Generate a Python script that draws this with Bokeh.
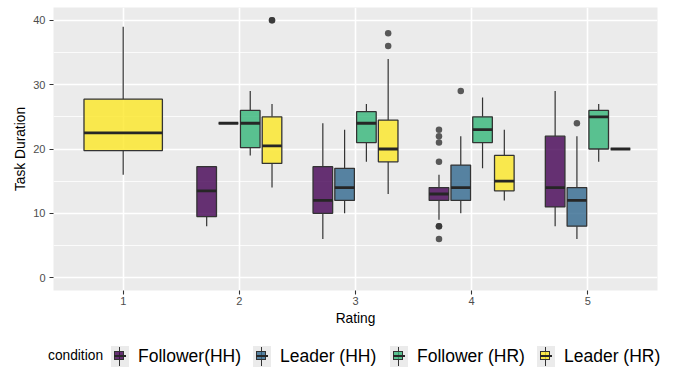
from bokeh.plotting import figure
from bokeh.layouts import column
from bokeh.models import FixedTicker, Range1d, Div
from bokeh.embed import file_html
from bokeh.resources import INLINE

# ---------------- data ----------------
ratings = [1, 2, 3, 4, 5]
rating_labels = ["1", "2", "3", "4", "5"]
conditions = ["Follower(HH)", "Leader (HH)", "Follower (HR)", "Leader (HR)"]
colors = ["#440154", "#31688E", "#35B779", "#FDE725"]

# rows: conditions, columns: ratings 1..5 (None = no data)
whisker_low = [
    [None, 8, 6, 9, 8],
    [None, 24, 10, 10, 6],
    [None, 19, 18, 17, 18],
    [16, 14, 13, 12, 20],
]
q1 = [
    [None, 9.5, 10, 12, 11],
    [None, 24, 12, 12, 8],
    [None, 20.2, 21, 21, 20],
    [19.75, 17.75, 18, 13.5, 20],
]
median = [
    [None, 13.5, 12, 13, 14],
    [None, 24, 14, 14, 12],
    [None, 24, 24, 23, 25],
    [22.5, 20.5, 20, 15, 20],
]
q3 = [
    [None, 17.25, 17.25, 14, 22],
    [None, 24, 17, 17.5, 14],
    [None, 26, 25.8, 25, 26],
    [27.75, 25, 24.5, 19, 20],
]
whisker_high = [
    [None, 17.25, 24, 16, 29],
    [None, 24, 23, 22, 22],
    [None, 29, 27, 28, 27],
    [39, 27, 34, 23, 20],
]
outlier_condition = [0, 0, 0, 0, 0, 0, 0, 1, 1, 3, 3, 3, 3]
outlier_rating = [4, 4, 4, 4, 4, 4, 4, 4, 5, 2, 2, 3, 3]
outlier_value = [23, 22, 21, 18, 8, 8, 6, 29, 24, 40, 40, 38, 36]

y_ticks = [0, 10, 20, 30, 40]
y_minor = [5, 15, 25, 35]

# ---------------- dodge positions (ggplot position_dodge2, width 0.75, padding 0.1) ----------------
DODGE = 0.75
PAD = 0.1
centers = {}
halfw = {}
for ri, r in enumerate(ratings):
    present = [ci for ci in range(len(conditions)) if median[ci][ri] is not None]
    n = len(present)
    slot = DODGE / n
    for k, ci in enumerate(present):
        centers[(ci, r)] = r - DODGE / 2 + slot * (k + 0.5)
        halfw[(ci, r)] = slot * (1 - PAD) / 2

FONT = "Liberation Sans"
LINE = "#333333"

FRAME_L, FRAME_R = 53, 657

p = figure(width=678, height=330, x_range=Range1d(0.4, 5.6), y_range=Range1d(-2, 42),
           output_backend="svg", toolbar_location=None,
           min_border_left=FRAME_L, min_border_right=678 - FRAME_R, min_border_top=7,
           min_border_bottom=40)
p.background_fill_color = "#EBEBEB"
p.border_fill_color = "white"
p.outline_line_color = None

for ci, cond in enumerate(conditions):
    xs, l, rgt, lw, b1, md, b3, uw = [], [], [], [], [], [], [], []
    for ri, r in enumerate(ratings):
        if median[ci][ri] is None:
            continue
        c = centers[(ci, r)]
        h = halfw[(ci, r)]
        xs.append(c); l.append(c - h); rgt.append(c + h)
        lw.append(whisker_low[ci][ri]); b1.append(q1[ci][ri]); md.append(median[ci][ri])
        b3.append(q3[ci][ri]); uw.append(whisker_high[ci][ri])
    p.segment(x0=xs, y0=lw, x1=xs, y1=b1, line_color=LINE, line_width=1.2)
    p.segment(x0=xs, y0=b3, x1=xs, y1=uw, line_color=LINE, line_width=1.2)
    p.quad(left=l, right=rgt, bottom=b1, top=b3, fill_color=colors[ci], fill_alpha=0.8,
           line_color=LINE, line_width=1.3)
    p.segment(x0=l, y0=md, x1=rgt, y1=md, line_color="#262626", line_width=2.8)

ox = [centers[(c, r)] for c, r in zip(outlier_condition, outlier_rating)]
p.scatter(x=ox, y=outlier_value, size=6.5, fill_color=LINE, line_color=None, fill_alpha=0.8)

p.xaxis.ticker = FixedTicker(ticks=ratings)
p.xaxis.major_label_overrides = {r: s for r, s in zip(ratings, rating_labels)}
p.yaxis.ticker = FixedTicker(ticks=y_ticks, minor_ticks=y_minor)
p.ygrid.ticker = FixedTicker(ticks=y_ticks, minor_ticks=y_minor)
p.xgrid.ticker = FixedTicker(ticks=ratings)

for g in (p.xgrid, p.ygrid):
    g.grid_line_color = "white"
    g.grid_line_width = 1.6
p.ygrid.minor_grid_line_color = "white"
p.ygrid.minor_grid_line_width = 0.8

p.xaxis.axis_label = "Rating"
p.yaxis.axis_label = "Task Duration"
for ax in (p.xaxis, p.yaxis):
    ax.axis_line_color = None
    ax.major_tick_in = 0
    ax.major_tick_out = 4
    ax.major_tick_line_color = LINE
    ax.major_tick_line_width = 1.1
    ax.minor_tick_line_color = None
    ax.major_label_text_font = FONT
    ax.major_label_text_font_size = "11px"
    ax.major_label_text_color = "#4D4D4D"
    ax.axis_label_text_font = FONT
    ax.axis_label_text_font_size = "13.75px"
    ax.axis_label_text_font_style = "normal"
    ax.axis_label_text_color = "black"
p.xaxis.major_label_standoff = 2
p.xaxis.axis_label_standoff = 3
p.yaxis.major_label_standoff = 4
p.yaxis.axis_label_standoff = 2

# ---------------- legend (HTML strip below the plot) ----------------
def rgba(hx, a):
    h = hx.lstrip("#")
    return "rgba(%d,%d,%d,%.2f)" % (int(h[0:2], 16), int(h[2:4], 16), int(h[4:6], 16), a)

key_left = [111, 253, 390, 537]   # legend layout (page pixels)
KEY_W, KEY_H, KEY_TOP = 18, 21, 16
parts = ['<div style="position:relative;width:678px;height:38px;font-family:\'Liberation Sans\';'
         'color:black;">']
parts.append('<span style="position:absolute;left:48px;top:%dpx;font-size:13.75px;'
             'line-height:16px;white-space:nowrap;">condition</span>' % (KEY_TOP + 2))
for k, name, col in zip(key_left, conditions, colors):
    parts.append('<div style="position:absolute;left:%dpx;top:%dpx;width:%dpx;height:%dpx;'
                 'background:#EBEBEB;"></div>' % (k, KEY_TOP, KEY_W, KEY_H))
    parts.append('<div style="position:absolute;left:%dpx;top:%dpx;width:1px;height:%dpx;'
                 'background:%s;"></div>' % (k + KEY_W // 2 - 1, KEY_TOP + 1, KEY_H - 2, LINE))
    parts.append('<div style="position:absolute;left:%dpx;top:%dpx;width:10px;height:9px;'
                 'background:%s;border:1px solid %s;"></div>'
                 % (k + 3, KEY_TOP + 5, rgba(col, 0.8), LINE))
    parts.append('<div style="position:absolute;left:%dpx;top:%dpx;width:12px;height:2px;'
                 'background:#262626;"></div>' % (k + 3, KEY_TOP + 9))
    parts.append('<span style="position:absolute;left:%dpx;top:%dpx;font-size:17.5px;'
                 'line-height:21px;white-space:nowrap;">%s</span>' % (k + 27, KEY_TOP, name))
parts.append('</div>')

legend = Div(text="".join(parts), width=678, height=38, margin=0)

layout = column(p, legend, spacing=0)
open("out.html", "w").write(file_html(layout, INLINE))
